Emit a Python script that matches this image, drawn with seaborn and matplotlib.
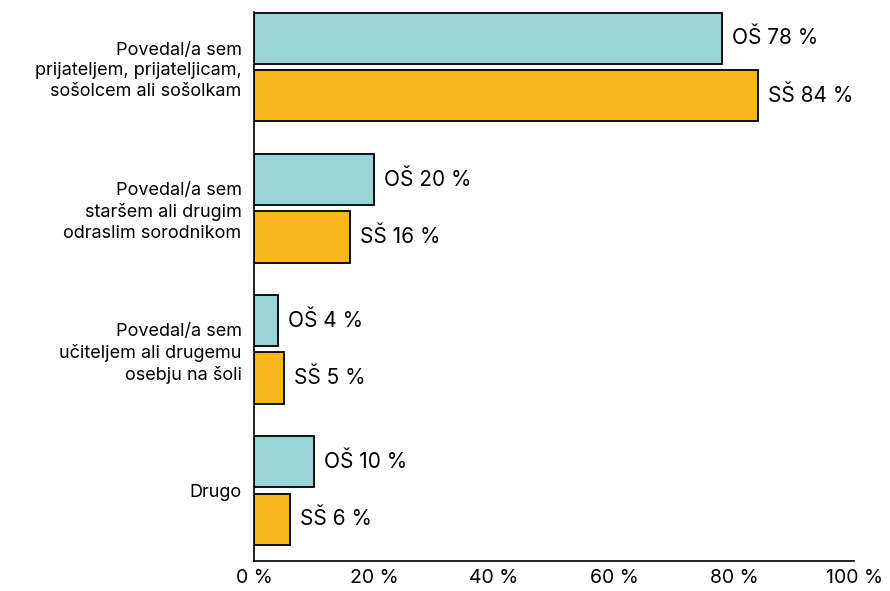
import pandas as pd
import matplotlib.pyplot as plt
import seaborn as sns

# answers and shares (%) for primary (OŠ) and secondary (SŠ) schools
categories = [
    'Povedal/a sem\nprijateljem, prijateljicam,\nsošolcem ali sošolkam',
    'Povedal/a sem\nstaršem ali drugim\nodraslim sorodnikom',
    'Povedal/a sem\nučiteljem ali drugemu\nosebju na šoli',
    'Drugo',
]
os_vals = [78, 20, 4, 10]
ss_vals = [84, 16, 5, 6]
groups = ['OŠ', 'SŠ']
colors = ['#9AD4D6', '#F7B71D']

df = pd.DataFrame({
    'Odgovor': categories * 2,
    'Skupina': [groups[0]] * len(categories) + [groups[1]] * len(categories),
    'Delež': os_vals + ss_vals,
})

sns.set_style('white', {'text.color': 'black', 'xtick.color': 'black',
                        'ytick.color': 'black', 'axes.labelcolor': 'black'})
plt.rcParams['font.family'] = ['Inter', 'DejaVu Sans']

fig = plt.figure(figsize=(8.9, 5.91), dpi=100)
ax = fig.add_axes([0.2854, 0.0508, 0.6742, 0.929])

sns.barplot(data=df, y='Odgovor', x='Delež', hue='Skupina', orient='h',
            palette=colors, saturation=1, width=0.816, gap=0.11,
            edgecolor='black', linewidth=1.3, legend=False, ax=ax)

for cont, grp in zip(ax.containers, groups):
    labels = [f'{grp} {v:.0f} %' for v in cont.datavalues]
    ax.bar_label(cont, labels=labels, padding=7, fontsize=15)

ax.set_xlim(0, 100)
ax.set_ylim(3.5, -0.39)
ax.set_xticks([0, 20, 40, 60, 80, 100])
ax.set_xticklabels([f'{t} %' for t in [0, 20, 40, 60, 80, 100]], fontsize=14)
ax.tick_params(axis='x', direction='in', length=13, width=1.2, pad=6)
ax.tick_params(axis='y', length=0, pad=9, labelsize=13)
for lbl in ax.get_yticklabels():
    lbl.set_multialignment('right')
    lbl.set_linespacing(1.3)
ax.set_xlabel('')
ax.set_ylabel('')
sns.despine(ax=ax, top=True, right=True)
for s in ['left', 'bottom']:
    ax.spines[s].set_color('black')
    ax.spines[s].set_linewidth(1.2)

fig.savefig('out.png', dpi=100)
